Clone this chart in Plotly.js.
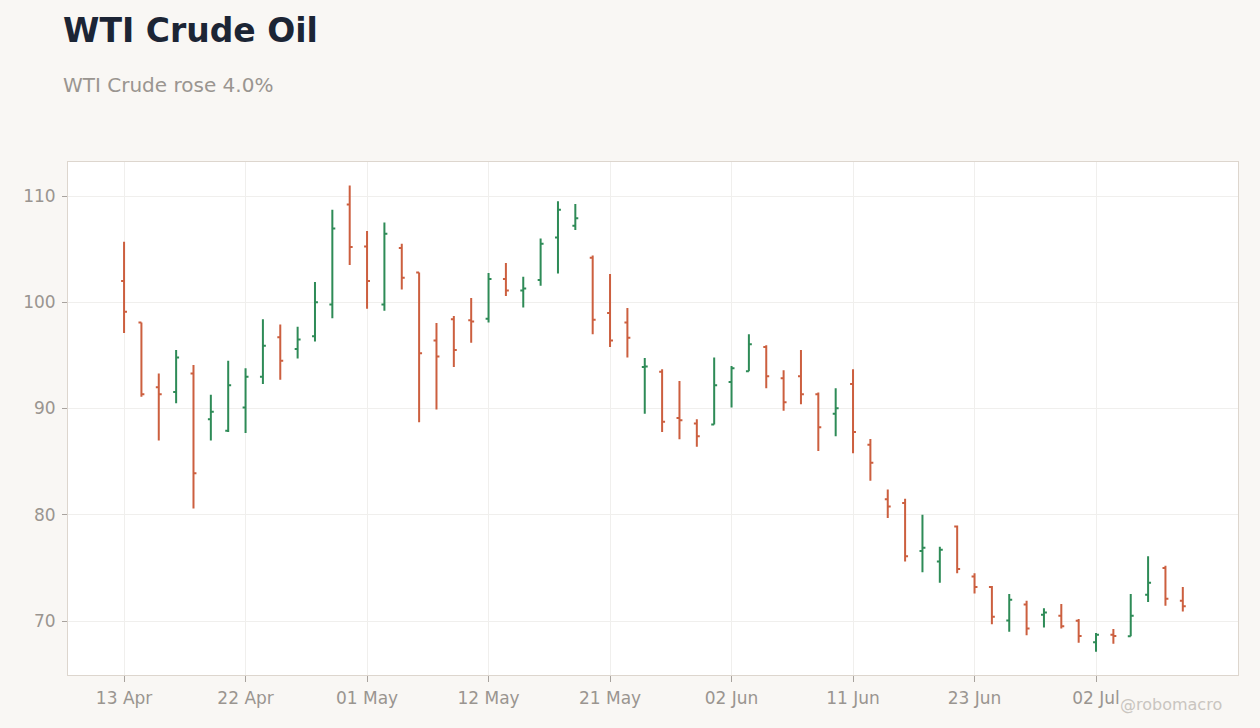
<!DOCTYPE html>
<html>
<head>
<meta charset="utf-8">
<script src="https://cdn.plot.ly/plotly-3.0.1.min.js"></script>
<style>
  html, body { margin: 0; padding: 0; background: #f9f7f4; }
  #chart { width: 1260px; height: 728px; }
</style>
</head>
<body>
<div id="chart"></div>
<script>
// trading days (category axis, one bar per day)
var dates = [
  "2022-04-13","2022-04-14","2022-04-15","2022-04-18","2022-04-19","2022-04-20","2022-04-21",
  "2022-04-22","2022-04-24","2022-04-25","2022-04-26","2022-04-27","2022-04-28","2022-04-29",
  "2022-05-01","2022-05-03","2022-05-04","2022-05-05","2022-05-06","2022-05-09","2022-05-10",
  "2022-05-12","2022-05-13","2022-05-16","2022-05-17","2022-05-18","2022-05-19","2022-05-20",
  "2022-05-21","2022-05-23","2022-05-24","2022-05-25","2022-05-26","2022-05-27","2022-05-31",
  "2022-06-02","2022-06-03","2022-06-06","2022-06-07","2022-06-08","2022-06-09","2022-06-10",
  "2022-06-11","2022-06-13","2022-06-14","2022-06-15","2022-06-16","2022-06-17","2022-06-21",
  "2022-06-23","2022-06-24","2022-06-27","2022-06-28","2022-06-29","2022-06-30","2022-07-01",
  "2022-07-02","2022-07-05","2022-07-06","2022-07-07","2022-07-08","2022-07-11"
];

var open = [102.0, 98.1, 92.0, 91.55, 93.3, 89.0, 87.9, 90.1, 93.0, 96.7,
  95.6, 96.8, 99.8, 109.2, 105.25, 99.8, 105.1, 102.8, 96.4, 98.4,
  98.3, 98.45, 102.2, 101.1, 102.1, 106.1, 107.2, 104.2, 99.0, 98.1,
  93.9, 93.45, 89.1, 88.6, 88.5, 92.5, 93.5, 95.8, 92.85, 93.04,
  91.35, 89.5, 92.3, 86.6, 81.46, 81.1, 76.6, 75.6, 78.9, 74.2,
  73.2, 70.06, 71.56, 70.6, 70.5, 70.03, 68.0, 68.7, 68.56, 72.48,
  75.0, 71.9];
var high = [105.7, 98.1, 93.3, 95.5, 94.1, 91.3, 94.5, 93.8, 98.4, 97.9,
  97.7, 101.9, 108.7, 111.0, 106.7, 107.5, 105.5, 102.8, 98.05, 98.7,
  100.4, 102.75, 103.7, 102.4, 106.0, 109.5, 109.25, 104.4, 102.65, 99.45,
  94.75, 93.7, 92.6, 89.0, 94.8, 94.0, 97.0, 95.96, 93.6, 95.5,
  91.5, 91.9, 93.7, 87.13, 82.37, 81.5, 80.0, 77.0, 79.0, 74.5,
  73.3, 72.55, 71.9, 71.2, 71.6, 70.2, 68.87, 69.25, 72.54, 76.1,
  75.2, 73.2];
var low = [97.1, 91.1, 87.0, 90.5, 80.6, 87.0, 87.8, 87.7, 92.3, 92.7,
  94.7, 96.3, 98.5, 103.5, 99.4, 99.2, 101.2, 88.7, 89.9, 93.9,
  96.2, 98.1, 100.6, 99.5, 101.55, 102.7, 106.8, 97.0, 95.8, 94.8,
  89.5, 87.8, 87.1, 86.4, 88.5, 90.1, 93.5, 91.9, 89.8, 90.4,
  86.0, 87.4, 85.8, 83.2, 79.7, 75.6, 74.6, 73.6, 74.5, 72.6,
  69.7, 69.0, 68.66, 69.4, 69.3, 67.96, 67.1, 67.87, 68.56, 71.8,
  71.44, 70.9];
var close = [99.1, 91.35, 91.35, 94.8, 83.9, 89.7, 92.2, 93.0, 95.9, 94.5,
  96.5, 100.0, 106.95, 105.2, 102.0, 106.45, 102.3, 95.2, 94.9, 95.5,
  98.2, 102.2, 101.1, 101.3, 105.5, 108.7, 107.9, 98.35, 96.4, 96.65,
  93.95, 88.75, 88.9, 87.4, 92.2, 93.8, 96.05, 93.04, 90.6, 91.35,
  88.24, 90.03, 87.8, 84.9, 80.78, 76.1, 76.9, 76.7, 74.9, 73.2,
  70.4, 72.0, 69.3, 70.8, 69.5, 68.6, 68.7, 68.6, 70.5, 73.6,
  72.1, 71.4];

var tickDates = ["2022-04-13","2022-04-22","2022-05-01","2022-05-12","2022-05-21",
  "2022-06-02","2022-06-11","2022-06-23","2022-07-02"];
var tickLabels = ["13 Apr","22 Apr","01 May","12 May","21 May","02 Jun","11 Jun","23 Jun","02 Jul"];
var priceTicks = [70, 80, 90, 100, 110];

var trace = {
  type: "ohlc",
  x: dates,
  open: open,
  high: high,
  low: low,
  close: close,
  tickwidth: 0.17,
  increasing: {line: {color: "#2e8b57", width: 2}},
  decreasing: {line: {color: "#cc5f3f", width: 2}},
  showlegend: false
};

var layout = {
  width: 1260,
  height: 728,
  paper_bgcolor: "#f9f7f4",
  plot_bgcolor: "#ffffff",
  margin: {l: 68, r: 22, t: 162, b: 53},
  font: {family: "DejaVu Sans", color: "#9a9590", size: 17},
  xaxis: {
    type: "category",
    range: [-3.23, 64.18],
    tickvals: tickDates,
    ticktext: tickLabels,
    showgrid: true,
    gridcolor: "#f0efed",
    ticks: "outside",
    ticklen: 6,
    tickcolor: "#a8a39e",
    ticklabelstandoff: 2,
    showline: true,
    linecolor: "#ddd6ce",
    mirror: true,
    rangeslider: {visible: false},
    tickfont: {size: 17, color: "#9a9590"}
  },
  yaxis: {
    range: [64.92, 113.2],
    tickvals: priceTicks,
    showgrid: true,
    gridcolor: "#f0efed",
    zeroline: false,
    ticks: "outside",
    ticklen: 5,
    tickcolor: "#a8a39e",
    ticklabelstandoff: 3,
    showline: true,
    linecolor: "#ddd6ce",
    mirror: true,
    tickfont: {size: 17, color: "#9a9590"}
  },
  annotations: [
    {
      text: "<b>WTI Crude Oil</b>",
      xref: "paper", yref: "paper",
      x: -0.006, y: 1.256,
      xanchor: "left", yanchor: "middle",
      showarrow: false,
      font: {family: "DejaVu Sans", size: 33, color: "#1c2535"}
    },
    {
      text: "WTI Crude rose 4.0%",
      xref: "paper", yref: "paper",
      x: -0.006, y: 1.150,
      xanchor: "left", yanchor: "middle",
      showarrow: false,
      font: {family: "DejaVu Sans", size: 20, color: "#9a9590"}
    },
    {
      text: "@robomacro",
      xref: "paper", yref: "paper",
      x: 0.988, y: -0.058,
      xanchor: "right", yanchor: "middle",
      showarrow: false,
      font: {family: "DejaVu Sans", size: 16, color: "#c9c5c0"}
    }
  ]
};

Plotly.newPlot("chart", [trace], layout, {displayModeBar: false, staticPlot: true});
</script>
</body>
</html>
